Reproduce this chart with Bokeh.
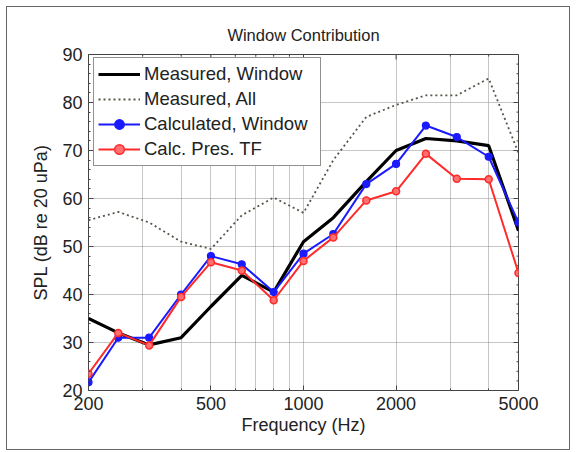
import math
from bokeh.plotting import figure
from bokeh.models import (FixedTicker, Range1d, Legend, LegendItem, BasicTickFormatter)
from bokeh.embed import file_html
from bokeh.resources import INLINE

# ---- data ----
freq = [200, 250, 315, 400, 500, 630, 800, 1000, 1250, 1600, 2000, 2500, 3150, 4000, 5000]
meas_window = [35.0, 32.0, 29.5, 31.0, 37.5, 44.0, 40.5, 51.0, 56.0, 63.5, 70.0, 72.5, 72.0, 71.0, 53.3]
meas_all = [55.5, 57.2, 55.0, 51.0, 49.5, 56.5, 60.2, 57.0, 68.0, 77.0, 79.5, 81.5, 81.5, 85.0, 69.5]
calc_window = [21.7, 31.0, 31.0, 40.0, 48.0, 46.3, 40.5, 48.5, 52.6, 63.0, 67.2, 75.2, 72.8, 68.7, 55.0]
calc_pres = [23.5, 32.0, 29.4, 39.5, 46.7, 45.0, 38.8, 47.0, 51.9, 59.6, 61.5, 69.3, 64.1, 64.0, 44.5]

x_ticks = [200, 500, 1000, 2000, 5000]
x_minor = [300, 400, 600, 700, 800, 900, 3000, 4000]
x_grid = [300, 400, 500, 600, 700, 800, 900, 1000, 2000, 3000, 4000]
y_ticks = [20, 30, 40, 50, 60, 70, 80, 90]
y_minor = [v for v in range(20, 91, 2) if v % 10]
y_grid = [30, 40, 50, 60, 70, 80]

labels = ["Measured, Window", "Measured, All", "Calculated, Window", "Calc. Pres. TF"]
title_text = "Window Contribution"

FONT = "Liberation Sans"
TXT = "#222222"
TICK = "#444444"

p = figure(width=564, height=444, x_axis_type="log",
           x_range=Range1d(200, 5000), y_range=Range1d(20, 90),
           output_backend="svg", toolbar_location=None,
           min_border_left=81, min_border_right=53,
           min_border_top=47, min_border_bottom=61)
p.styles = {"border": "1px solid #666666", "margin-left": "6px", "margin-top": "6px"}

p.title.text = title_text
p.title.align = "center"
p.title.text_font = FONT
p.title.text_font_size = "16.5px"
p.title.text_font_style = "normal"
p.title.text_color = TXT
p.title.standoff = 22

p.outline_line_color = "#444444"
p.outline_line_width = 1

# bottom axis
xa = p.xaxis[0]
xa.ticker = FixedTicker(ticks=x_ticks, minor_ticks=x_minor)
xa.formatter = BasicTickFormatter(use_scientific=False)
xa.axis_label = "Frequency (Hz)"
xa.axis_label_standoff = 2
# left axis
ya = p.yaxis[0]
ya.ticker = FixedTicker(ticks=y_ticks, minor_ticks=y_minor)
ya.axis_label = "SPL (dB re 20 uPa)"
ya.axis_label_standoff = 8

for ax in (xa, ya):
    ax.axis_line_color = None
    ax.major_tick_in = 5
    ax.major_tick_out = 0
    ax.minor_tick_in = 2
    ax.minor_tick_out = 0
    ax.major_tick_line_color = TICK
    ax.minor_tick_line_color = TICK
    ax.major_label_text_font = FONT
    ax.major_label_text_font_size = "18px"
    ax.major_label_text_color = TXT
    ax.major_label_standoff = 6
    ax.axis_label_text_font = FONT
    ax.axis_label_text_font_size = "18px"
    ax.axis_label_text_font_style = "normal"
    ax.axis_label_text_color = TXT

# grids
p.xgrid.ticker = FixedTicker(ticks=x_grid)
p.ygrid.ticker = FixedTicker(ticks=y_grid)
for g in (p.xgrid[0], p.ygrid[0]):
    g.grid_line_color = "#8c8c8c"
    g.grid_line_dash = "1 1"
    g.grid_line_width = 1
    g.grid_line_alpha = 1

# mirrored ticks on the top and right edges of the box (inward)
y_top = p.y_range.end
x_right = p.x_range.end
p.ray(x=x_ticks, y=[y_top] * len(x_ticks), length=5, length_units="screen",
      angle=-math.pi / 2, line_color=TICK, line_width=1)
p.ray(x=x_minor, y=[y_top] * len(x_minor), length=2, length_units="screen",
      angle=-math.pi / 2, line_color=TICK, line_width=1)
p.ray(x=[x_right] * len(y_ticks), y=y_ticks, length=5, length_units="screen",
      angle=math.pi, line_color=TICK, line_width=1)
p.ray(x=[x_right] * len(y_minor), y=y_minor, length=2, length_units="screen",
      angle=math.pi, line_color=TICK, line_width=1)

# series
BLUE = "#1a1aff"
RED = "#ff2a2a"
r_black = p.line(freq, meas_window, line_color="black", line_width=3.2)
r_all = p.line(freq, meas_all, line_color="#555548", line_width=1.8, line_dash="2 3")
r_blue = p.line(freq, calc_window, line_color=BLUE, line_width=2)
r_blue_m = p.scatter(freq, calc_window, marker="circle", size=7,
                     line_color=BLUE, fill_color=BLUE, line_width=1.2)
r_red = p.line(freq, calc_pres, line_color=RED, line_width=2)
r_red_m = p.scatter(freq, calc_pres, marker="circle", size=7,
                    line_color=RED, fill_color="#ff7070", line_width=1.5)

legend = Legend(items=[
    LegendItem(label=labels[0], renderers=[r_black]),
    LegendItem(label=labels[1], renderers=[r_all]),
    LegendItem(label=labels[2], renderers=[r_blue, r_blue_m]),
    LegendItem(label=labels[3], renderers=[r_red, r_red_m]),
], location=(5, 224))
legend.margin = 0
legend.padding = 4
legend.spacing = 1
legend.glyph_width = 42
legend.glyph_height = 24
legend.label_height = 24
legend.label_width = 172
legend.label_standoff = 4
legend.label_text_font = FONT
legend.label_text_font_size = "18.5px"
legend.label_text_color = TXT
legend.border_line_color = "#222222"
legend.border_line_width = 1
legend.background_fill_color = "white"
legend.background_fill_alpha = 1
p.add_layout(legend, "center")

open("out.html", "w").write(file_html(p, INLINE))
